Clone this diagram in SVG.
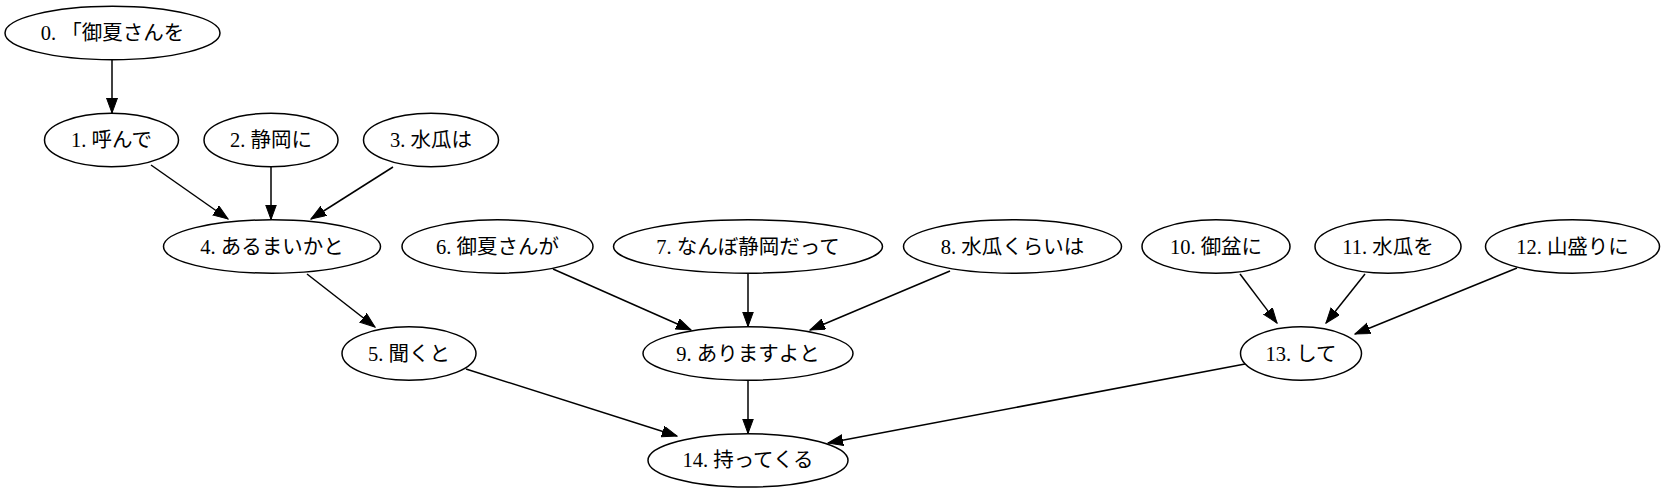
<svg xmlns="http://www.w3.org/2000/svg" width="1667" height="493" viewBox="0 0 1667 493">
<style>
.n ellipse{fill:none;stroke:#000;stroke-width:1.5}
.n text{font-family:"Liberation Serif","Noto Sans CJK JP",serif;font-size:20.5px;text-anchor:middle;fill:#000}
.e line{stroke:#000;stroke-width:1.5;marker-end:url(#ah)}
</style>
<defs>
<marker id="ah" markerUnits="userSpaceOnUse" markerWidth="16" markerHeight="12" refX="15" refY="5.5" orient="auto">
<path d="M0,0 L15,5.5 L0,11 z" fill="#000" stroke="#000" stroke-width="1"/>
</marker>
</defs>
<rect width="1667" height="493" fill="#fff"/>
<g id="edges" class="e">
<line x1="112" y1="60" x2="112" y2="113"/>
<line x1="151" y1="165" x2="228" y2="219"/>
<line x1="271" y1="167" x2="271" y2="219.5"/>
<line x1="393" y1="167" x2="311" y2="219"/>
<line x1="307" y1="274" x2="375" y2="327"/>
<line x1="553" y1="269" x2="691" y2="330"/>
<line x1="748" y1="273" x2="748" y2="326.5"/>
<line x1="950" y1="271" x2="810" y2="330"/>
<line x1="1240" y1="274" x2="1277" y2="323"/>
<line x1="1365" y1="274" x2="1326" y2="323"/>
<line x1="1517" y1="268" x2="1355" y2="334"/>
<line x1="466" y1="369" x2="677" y2="436"/>
<line x1="748" y1="380" x2="748" y2="433.5"/>
<line x1="1245" y1="364" x2="828" y2="443"/>
</g>
<g id="node0" class="n"><ellipse cx="112.5" cy="33" rx="107.5" ry="26.7"/><text x="112.5" y="40">0. 「御夏さんを</text></g>
<g id="node1" class="n"><ellipse cx="111.5" cy="140" rx="67" ry="26.7"/><text x="111.5" y="147">1. 呼んで</text></g>
<g id="node2" class="n"><ellipse cx="271" cy="140" rx="67" ry="26.7"/><text x="271" y="147">2. 静岡に</text></g>
<g id="node3" class="n"><ellipse cx="431" cy="140" rx="67.5" ry="26.7"/><text x="431" y="147">3. 水瓜は</text></g>
<g id="node4" class="n"><ellipse cx="272" cy="246.5" rx="108.5" ry="26.7"/><text x="272" y="253.5">4. あるまいかと</text></g>
<g id="node5" class="n"><ellipse cx="409" cy="353.5" rx="67" ry="26.7"/><text x="409" y="360.5">5. 聞くと</text></g>
<g id="node6" class="n"><ellipse cx="497.5" cy="246.5" rx="95.5" ry="26.7"/><text x="497.5" y="253.5">6. 御夏さんが</text></g>
<g id="node7" class="n"><ellipse cx="748" cy="246.5" rx="134.5" ry="26.7"/><text x="748" y="253.5">7. なんぼ静岡だって</text></g>
<g id="node8" class="n"><ellipse cx="1012.5" cy="246.5" rx="109" ry="26.7"/><text x="1012.5" y="253.5">8. 水瓜くらいは</text></g>
<g id="node9" class="n"><ellipse cx="748" cy="353.5" rx="105" ry="26.7"/><text x="748" y="360.5">9. ありますよと</text></g>
<g id="node10" class="n"><ellipse cx="1216" cy="246.5" rx="74" ry="26.7"/><text x="1216" y="253.5">10. 御盆に</text></g>
<g id="node11" class="n"><ellipse cx="1388" cy="246.5" rx="73" ry="26.7"/><text x="1388" y="253.5">11. 水瓜を</text></g>
<g id="node12" class="n"><ellipse cx="1572.5" cy="246.5" rx="87" ry="26.7"/><text x="1572.5" y="253.5">12. 山盛りに</text></g>
<g id="node13" class="n"><ellipse cx="1301" cy="353.5" rx="60.5" ry="26.7"/><text x="1301" y="360.5">13. して</text></g>
<g id="node14" class="n"><ellipse cx="748" cy="460.4" rx="100" ry="26.7"/><text x="748" y="467.4">14. 持ってくる</text></g>
</svg>
